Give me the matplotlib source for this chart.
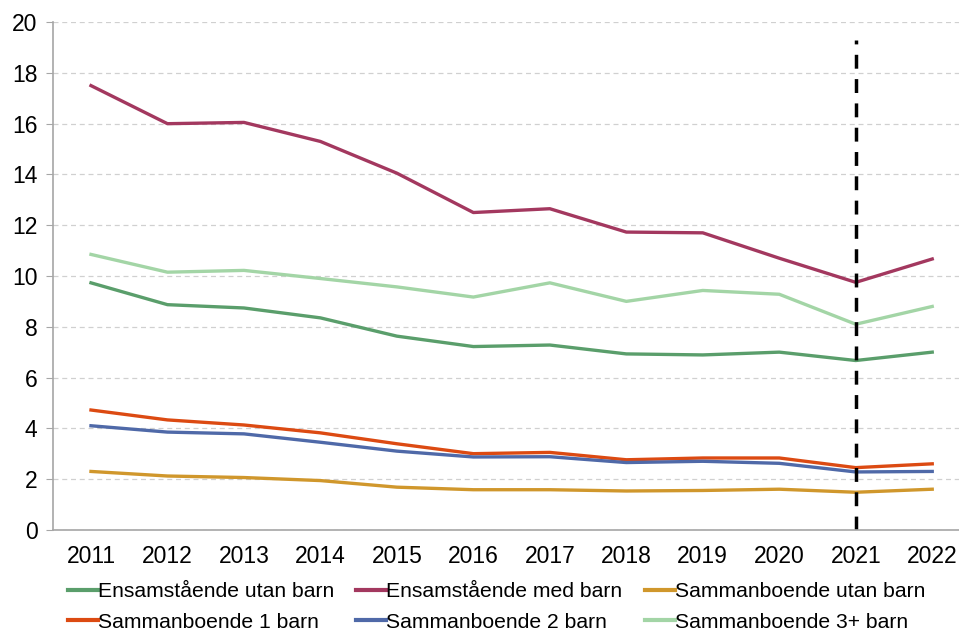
import matplotlib
matplotlib.use("Agg")
import matplotlib.pyplot as plt

plt.rcParams["font.family"] = ["Liberation Sans", "DejaVu Sans"]

YEARS = [str(y) for y in range(2011, 2023)]

ENSAM_UTAN = [9.73, 8.87, 8.74, 8.35, 7.63, 7.22, 7.28, 6.93, 6.89, 7.00, 6.67, 7.00]
ENSAM_MED = [17.5, 16.0, 16.05, 15.3, 14.05, 12.5, 12.65, 11.73, 11.7, 10.7, 9.75, 10.67]
SAMBO_UTAN = [2.30, 2.12, 2.06, 1.94, 1.68, 1.58, 1.58, 1.53, 1.55, 1.60, 1.48, 1.60]
SAMBO_1 = [4.72, 4.33, 4.13, 3.82, 3.39, 3.00, 3.05, 2.76, 2.83, 2.83, 2.45, 2.60]
SAMBO_2 = [4.10, 3.85, 3.78, 3.45, 3.10, 2.87, 2.88, 2.65, 2.70, 2.62, 2.28, 2.30]
SAMBO_3 = [10.85, 10.15, 10.22, 9.90, 9.57, 9.17, 9.73, 9.00, 9.43, 9.28, 8.10, 8.80]

SERIES = [
    ("Ensamstående utan barn", ENSAM_UTAN, "#5a9e6b"),
    ("Ensamstående med barn", ENSAM_MED, "#a3385f"),
    ("Sammanboende utan barn", SAMBO_UTAN, "#d0972c"),
    ("Sammanboende 1 barn", SAMBO_1, "#dc4a12"),
    ("Sammanboende 2 barn", SAMBO_2, "#4f69a8"),
    ("Sammanboende 3+ barn", SAMBO_3, "#a3d5a6"),
]
MARK_YEAR = "2021"

fig = plt.figure(figsize=(9.59, 6.33), dpi=100)
ax = fig.add_axes([0.055, 0.163, 0.945, 0.802])

x = list(range(len(YEARS)))
handles = []
for name, vals, color in SERIES:
    (ln,) = ax.plot(x, vals, color=color, linewidth=2.4, label=name)
    handles.append(ln)

xm = YEARS.index(MARK_YEAR)
ax.plot([xm, xm], [0, 19.3], color="black", linestyle=(0, (4, 3)), linewidth=2.5)

ax.set_xlim(-0.5, 11.35)
ax.set_ylim(0, 20)
ax.set_xticks(x)
ax.set_xticklabels(YEARS)
ax.set_yticks(range(0, 21, 2))
ax.tick_params(axis="x", length=0, labelsize=16.5, pad=11)
ax.tick_params(axis="y", length=5, color="#a6a6a6", labelsize=16.5, pad=6)
ax.grid(axis="y", color="#d0d0d0", linestyle=(0, (4, 3)), linewidth=0.9)
ax.set_axisbelow(True)
for side in ("top", "right"):
    ax.spines[side].set_visible(False)
for side in ("left", "bottom"):
    ax.spines[side].set_color("#a6a6a6")
    ax.spines[side].set_linewidth(1.2)

# legend fills row by row in the original
order = [0, 3, 1, 4, 2, 5]
leg = fig.legend([handles[i] for i in order], [SERIES[i][0] for i in order],
                 loc="lower left", bbox_to_anchor=(0.071, 0.002), ncol=3, frameon=False,
                 fontsize=15.2, handlelength=1.42, handletextpad=0.0, columnspacing=1.05,
                 labelspacing=0.55, borderpad=0, borderaxespad=0)
for h in leg.legend_handles:
    h.set_linewidth(3)

fig.savefig("out.png", dpi=100)
